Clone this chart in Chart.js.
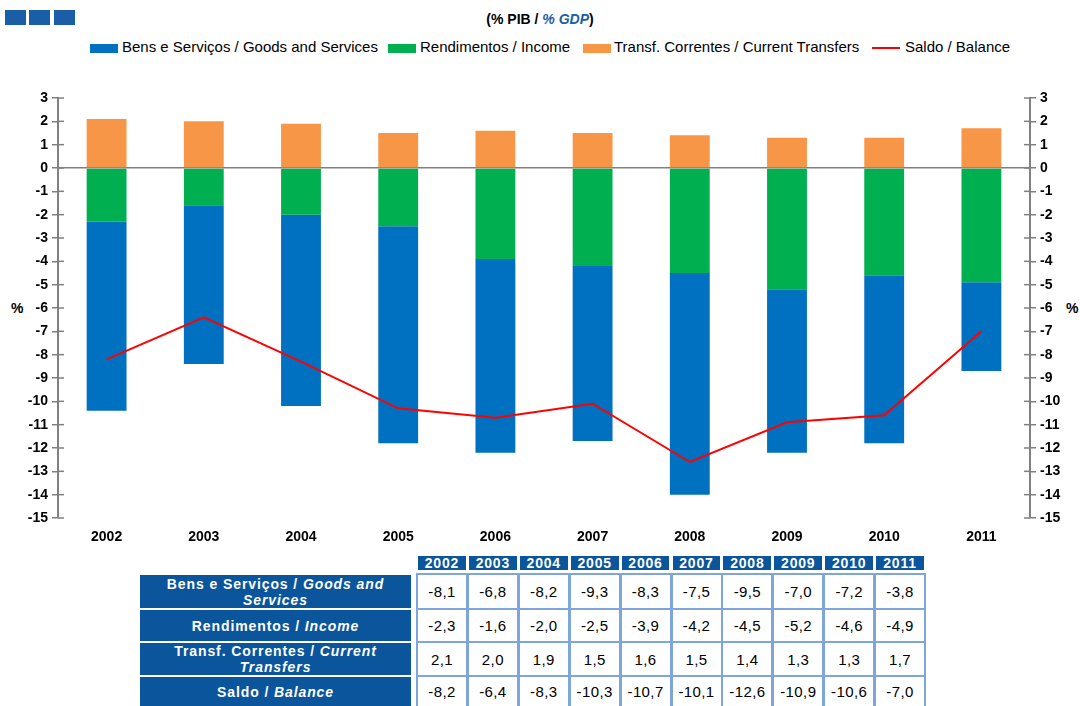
<!DOCTYPE html>
<html>
<head>
<meta charset="utf-8">
<script src="https://cdn.jsdelivr.net/npm/chart.js@4"></script>
<style>
  body { margin: 0; background: #fff; font-family: "Liberation Sans", Arial, sans-serif; }
  #wrap { position: relative; width: 1080px; height: 706px; overflow: hidden; }
  #chartBox { position: absolute; left: 0; top: 0; width: 1080px; height: 550px; }
  .sq { position: absolute; top: 10px; width: 21px; height: 15px; background: #1a5ea8; }
  #title { position: absolute; top: 11px; left: 0; width: 1080px; text-align: center; font-size: 14px; font-weight: bold; }
  #title i { color: #1a5ea8; }
  .lg { position: absolute; top: 38px; font-size: 15px; white-space: nowrap; }
  .lgBox { position: absolute; top: 44px; width: 28px; height: 9px; }
  .pct { position: absolute; top: 300px; font-size: 14px; font-weight: bold; }
  .hd { position: absolute; top: 556px; height: 14px; background: #0a559b; color: #fff; font-size: 14px; font-weight: bold; text-align: center; line-height: 14px; letter-spacing: 0.8px; }
  .rl { position: absolute; left: 140px; width: 271px; background: #0a559b; color: #fff; font-size: 14px; font-weight: bold; text-align: center; display: flex; align-items: center; justify-content: center; line-height: 16px; letter-spacing: 0.9px; }
  .dc { position: absolute; width: 48px; border: 2px solid #7ea6dc; background: #fff; font-size: 15px; text-align: center; display: flex; align-items: center; justify-content: center; box-sizing: content-box; letter-spacing: 0.4px; }
</style>
</head>
<body>
<div id="wrap">
  <div class="sq" style="left:5px"></div>
  <div class="sq" style="left:29px"></div>
  <div class="sq" style="left:54px"></div>
  <div id="title">(% PIB / <i>% GDP</i>)</div>
  <div id="legend"></div>
  <div class="pct" style="left:11px">%</div>
  <div class="pct" style="left:1066px">%</div>
  <div id="chartBox"><canvas id="balanceChart"></canvas></div>
  <div id="table"></div>
</div>
<script>
// values (% of GDP)
const years = ['2002', '2003', '2004', '2005', '2006', '2007', '2008', '2009', '2010', '2011'];
const goods = [-8.1, -6.8, -8.2, -9.3, -8.3, -7.5, -9.5, -7.0, -7.2, -3.8];
const income = [-2.3, -1.6, -2.0, -2.5, -3.9, -4.2, -4.5, -5.2, -4.6, -4.9];
const transfers = [2.1, 2.0, 1.9, 1.5, 1.6, 1.5, 1.4, 1.3, 1.3, 1.7];
const balance = [-8.2, -6.4, -8.3, -10.3, -10.7, -10.1, -12.6, -10.9, -10.6, -7.0];
const yMin = -15, yMax = 3;

const seriesNames = [
  'Bens e Serviços / Goods and Services',
  'Rendimentos / Income',
  'Transf. Correntes / Current Transfers',
  'Saldo / Balance'
];
const rowLabels = [
  ['Bens e Serviços / ', 'Goods and Services'],
  ['Rendimentos / ', 'Income'],
  ['Transf. Correntes / ', 'Current Transfers'],
  ['Saldo / ', 'Balance']
];
const colors = ['#0070c0', '#00b050', '#f79646', '#ff0000'];

// legend
const legend = document.getElementById('legend');
const lgPos = [[90, 122], [388, 420], [583, 614], [872, 905]];
seriesNames.forEach((name, i) => {
  let box = document.createElement('div');
  box.className = 'lgBox';
  box.style.left = lgPos[i][0] + 'px';
  box.style.background = colors[i];
  if (i == 3) { box.style.height = '2px'; box.style.top = '47px'; }
  legend.appendChild(box);
  let t = document.createElement('div');
  t.className = 'lg';
  t.style.left = lgPos[i][1] + 'px';
  t.textContent = name;
  legend.appendChild(t);
});

// small tick marks on the inner side of both value axes
const innerTicks = {
  id: 'innerTicks',
  afterDraw(chart) {
    const ctx = chart.ctx;
    ctx.save();
    ctx.strokeStyle = '#808080';
    ctx.lineWidth = 1.5;
    ['y', 'y2'].forEach(id => {
      const s = chart.scales[id];
      const x = id == 'y' ? s.right : s.left;
      const dir = id == 'y' ? 1 : -1;
      s.ticks.forEach(t => {
        const py = s.getPixelForValue(t.value);
        ctx.beginPath();
        ctx.moveTo(x, py);
        ctx.lineTo(x + dir * 6, py);
        ctx.stroke();
      });
    });
    ctx.restore();
  }
};

const tickFont = { family: 'Liberation Sans, Arial', size: 14, weight: 'bold' };
const valueAxis = (pos) => ({
  position: pos,
  stacked: true,
  min: yMin,
  max: yMax,
  afterFit: s => { s.width = pos == 'left' ? 58 : 50; },
  border: { display: true, color: '#808080', width: 2 },
  grid: {
    drawOnChartArea: pos == 'left',
    color: c => (c.tick && c.tick.value === 0) ? '#808080' : 'rgba(0,0,0,0)',
    lineWidth: 1.5,
    tickColor: '#808080',
    tickLength: 6
  },
  ticks: { stepSize: 1, color: '#000', font: tickFont, padding: 4, autoSkip: false }
});

new Chart(document.getElementById('balanceChart'), {
  data: {
    labels: years,
    datasets: [
      { type: 'line', label: seriesNames[3], data: balance, borderColor: colors[3], borderWidth: 2, pointRadius: 0, tension: 0, yAxisID: 'y', order: 0 },
      { type: 'bar', label: seriesNames[1], data: income, backgroundColor: colors[1], yAxisID: 'y', order: 1 },
      { type: 'bar', label: seriesNames[0], data: goods, backgroundColor: colors[0], yAxisID: 'y', order: 1 },
      { type: 'bar', label: seriesNames[2], data: transfers, backgroundColor: colors[2], yAxisID: 'y', order: 1 }
    ]
  },
  options: {
    responsive: true,
    maintainAspectRatio: false,
    animation: false,
    layout: { padding: { top: 98 } },
    datasets: { bar: { categoryPercentage: 1, barPercentage: 0.41 } },
    plugins: { legend: { display: false }, tooltip: { enabled: false } },
    scales: {
      x: {
        stacked: true,
        afterFit: s => { s.height = 32; },
        grid: { display: false },
        border: { display: false },
        ticks: { color: '#000', font: tickFont, padding: 3 }
      },
      y: valueAxis('left'),
      y2: valueAxis('right')
    }
  },
  plugins: [innerTicks]
});

// data table
const table = document.getElementById('table');
const colLeft = 416, colW = 50.9;
years.forEach((yr, j) => {
  let h = document.createElement('div');
  h.className = 'hd';
  h.style.left = (colLeft + 2 + j * colW) + 'px';
  h.style.width = (colW - 3) + 'px';
  h.textContent = yr;
  table.appendChild(h);
});
const rowTop = [573, 608, 641, 675];
const rowH = [35, 33, 34, 31];
const rows = [goods, income, transfers, balance];
rows.forEach((vals, i) => {
  let l = document.createElement('div');
  l.className = 'rl';
  l.style.top = (rowTop[i] + 2) + 'px';
  l.style.height = (rowH[i] - 2) + 'px';
  l.innerHTML = '<span style="width:' + (i == 0 || i == 2 ? 262 : 271) + 'px">' + rowLabels[i][0] + '<i>' + rowLabels[i][1] + '</i></span>';
  table.appendChild(l);
  vals.forEach((v, j) => {
    let c = document.createElement('div');
    c.className = 'dc';
    c.style.left = (colLeft + j * colW) + 'px';
    c.style.top = rowTop[i] + 'px';
    c.style.height = (rowH[i] - 2) + 'px';
    c.textContent = v.toFixed(1).replace('.', ',');
    table.appendChild(c);
  });
});
</script>
</body>
</html>
